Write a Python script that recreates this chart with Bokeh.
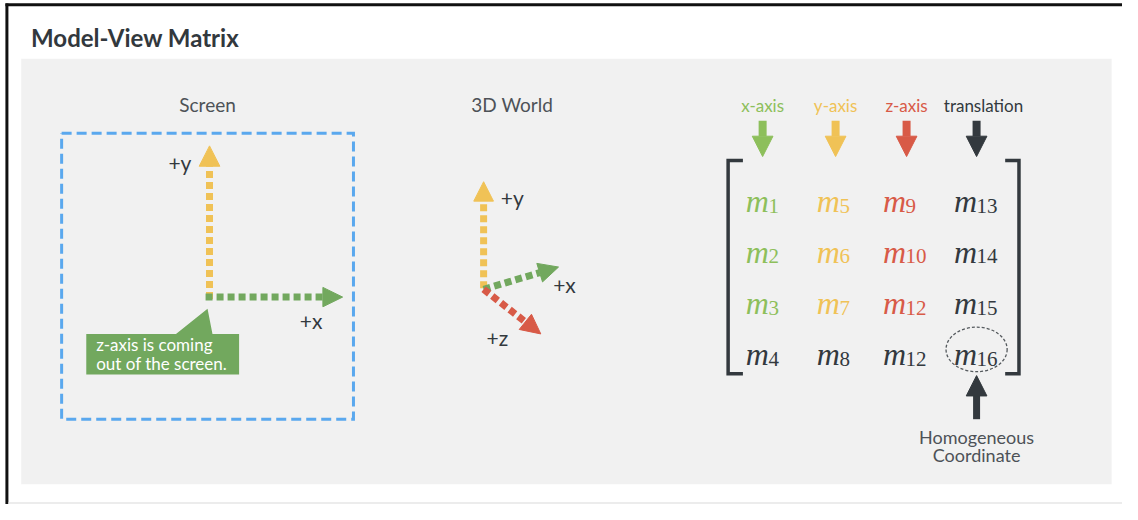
import math
from bokeh.plotting import figure
from bokeh.models import Range1d
from bokeh.embed import file_html
from bokeh.resources import INLINE
from bokeh.core.properties import value

# ---------------- content ----------------
TITLE = "Model-View Matrix"
PANEL_TITLES = ["Screen", "3D World"]
SCREEN_LABELS = ["+y", "+x"]
WORLD_LABELS = ["+y", "+x", "+z"]
CALLOUT_LINES = ["z-axis is coming", "out of the screen."]
HEADERS = ["x-axis", "y-axis", "z-axis", "translation"]
SUBSCRIPTS = [["1", "5", "9", "13"],
              ["2", "6", "10", "14"],
              ["3", "7", "12", "15"],
              ["4", "8", "12", "16"]]
NOTE_LINES = ["Homogeneous", "Coordinate"]

GREEN = "#72a85e"
LGREEN = "#8dbf5b"
YELLOW = "#f0c256"
RED = "#d85a47"
DARK = "#33393e"
BLUE = "#5aa8ee"
GREYTEXT = "#4d5257"
HEADER_COLORS = [LGREEN, YELLOW, RED, DARK]
CELL_COLORS = [[LGREEN, YELLOW, RED, DARK],
               [LGREEN, YELLOW, RED, DARK],
               [LGREEN, YELLOW, RED, DARK],
               [DARK, DARK, DARK, DARK]]

LATO = value("Lato")

p = figure(width=1122, height=504, x_range=Range1d(0, 1138), y_range=Range1d(520, 0),
           output_backend="svg", toolbar_location=None, title=None,
           x_axis_location=None, y_axis_location=None, min_border=0)
p.grid.visible = False
p.outline_line_color = None
p.background_fill_color = "white"
p.border_fill_color = "white"


def arrow(x0, y0, x1, y1, color, lw, head, headw=None, dash="solid"):
    dx, dy = x1 - x0, y1 - y0
    L = math.hypot(dx, dy)
    ux, uy = dx / L, dy / L
    bx, by = x1 - ux * head, y1 - uy * head
    px, py = -uy, ux
    hw = (headw if headw else head) / 2.0
    p.line([x0, bx], [y0, by], line_width=lw, line_color=color, line_dash=dash, line_cap="butt")
    p.patch([x1, bx + px * hw, bx - px * hw], [y1, by + py * hw, by - py * hw],
            fill_color=color, line_color=color, line_width=1)


# frame of the screenshot
p.line([5, 1138], [4.5, 4.5], line_color="#111111", line_width=3)
p.line([6.5, 6.5], [3, 520], line_color="#111111", line_width=3)
p.line([8, 1138], [518.5, 518.5], line_color="#e6e6e6", line_width=1.5)

# title
p.text(x=[31], y=[38], text=[TITLE], text_font=LATO, text_font_style="bold",
       text_font_size="24px", text_color="#32383d", text_baseline="alphabetic", text_align="left")

# panel
p.quad(left=[21], right=[1127], top=[60], bottom=[499], fill_color="#f1f1f1", line_color=None)

# panel titles
p.text(x=[210, 519], y=[107, 107], text=PANEL_TITLES, text_font=LATO, text_font_size="19px",
       text_color=GREYTEXT, text_baseline="middle", text_align="center")

# screen box
p.line([62, 358, 358, 62, 62], [137, 137, 432, 432, 137], line_color=BLUE, line_width=3,
       line_dash="10 5", line_join="miter")

# screen axes
arrow(212, 308, 212, 150, YELLOW, 7, 21, dash="7 4")
arrow(208, 306, 347, 306, GREEN, 7, 20, dash="7 4")
p.text(x=[182, 315], y=[167, 330], text=SCREEN_LABELS, text_font=LATO, text_font_size="21px",
       text_color="#33393e", text_baseline="middle", text_align="center")

# callout
p.patch([87, 178, 210, 215, 242, 242, 87], [344, 344, 318, 344, 344, 386, 386],
        fill_color=GREEN, line_color=None)
p.text(x=[97, 97], y=[355, 375], text=CALLOUT_LINES, text_font=LATO, text_font_size="17px",
       text_color="white", text_baseline="middle", text_align="left")

# 3D world axes
arrow(490, 297, 490, 187, YELLOW, 7, 20, dash="7 4")
arrow(490, 298, 566, 275, GREEN, 7, 20, dash="7 4")
arrow(490, 298, 548, 344, RED, 7, 20, dash="7 4")
p.text(x=[519, 572, 504], y=[203, 293, 348], text=WORLD_LABELS, text_font=LATO,
       text_font_size="21px", text_color="#33393e", text_baseline="middle", text_align="center")

# matrix headers and arrows
hx = [773, 847, 919, 997]
ax = [773, 847, 919, 990]
p.text(x=hx, y=[108] * 4, text=HEADERS, text_font=LATO, text_font_size="17px",
       text_color=HEADER_COLORS, text_baseline="middle", text_align="center")
for x, c in zip(ax, HEADER_COLORS):
    arrow(x, 124, x, 161, c, 8, 21)

# brackets
p.line([753, 738, 738, 753], [165, 165, 385, 385], line_color=DARK, line_width=3.5, line_join="miter")
p.line([1019, 1033, 1033, 1019], [165, 165, 385, 385], line_color=DARK, line_width=3.5, line_join="miter")

# matrix entries
col_x = [756, 828, 895, 967]
row_y = [207, 259, 312, 365]
mx, my, mc, sx, sy, st, sc = [], [], [], [], [], [], []
for r, yb in enumerate(row_y):
    for c, xl in enumerate(col_x):
        mx.append(xl); my.append(yb); mc.append(CELL_COLORS[r][c])
        sx.append(xl + 23); sy.append(yb + 5); st.append(SUBSCRIPTS[r][c]); sc.append(CELL_COLORS[r][c])
p.text(x=mx, y=my, text=["m"] * len(mx), text_font=value("Liberation Serif"), text_font_style="italic",
       text_font_size="32px", text_color=mc, text_baseline="alphabetic", text_align="left")
p.text(x=sx, y=sy, text=st, text_font=value("Liberation Serif"), text_font_size="21px",
       text_color=sc, text_baseline="alphabetic", text_align="left")

# highlight ellipse
p.ellipse(x=[990], y=[360], width=62, height=46, fill_color=None, line_color="#555a5e",
          line_width=1.3, line_dash="3 2")

# homogeneous arrow and note
arrow(990, 432, 990, 387, DARK, 7, 21)
p.text(x=[990, 990], y=[450, 469], text=NOTE_LINES, text_font=LATO, text_font_size="18px",
       text_color=GREYTEXT, text_baseline="middle", text_align="center")

open("out.html", "w").write(file_html(p, INLINE))
